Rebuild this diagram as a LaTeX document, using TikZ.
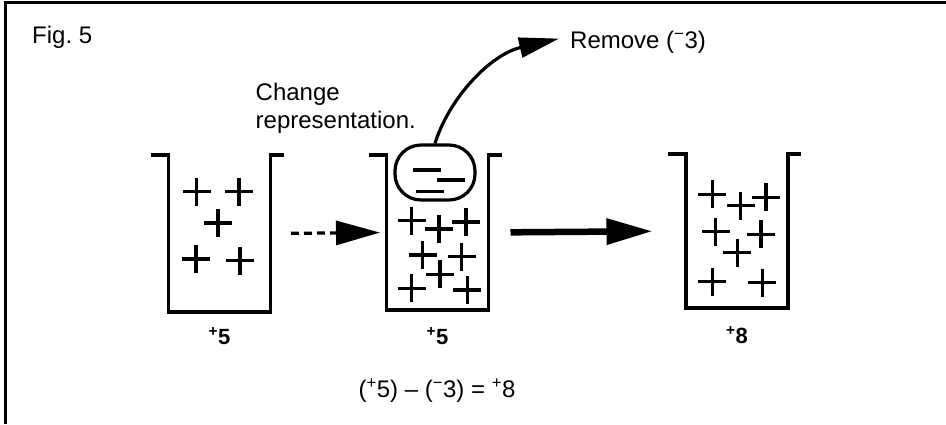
\documentclass[tikz,border=0pt]{standalone}
\usepackage{fontspec}
\setmainfont{Liberation Sans}
\usetikzlibrary{arrows.meta,calc}
\begin{document}
\begin{tikzpicture}[x=1pt,y=-1pt,
  frame/.style={line width=3pt},
  wall/.style={line width=3.4pt},
  tank/.style={minimum width=102pt, inner sep=0pt, outer sep=0pt},
  txt/.style={font=\fontsize{24}{28.3}\selectfont, inner sep=0pt},
  amount/.style={font=\fontsize{22}{24}\selectfont\bfseries, inner sep=0pt},
  plus/.style={line width=3.4pt},
  minusbar/.style={line width=3.2pt},
  dasharrow/.style={line width=3.2pt, dash pattern=on 8pt off 5pt,
    -{Triangle[length=44pt,width=24pt]}},
  thickarrow/.style={line width=6.5pt, -{Triangle[length=46pt,width=25pt]}},
  curvearrow/.style={line width=3.2pt, -{Triangle[length=40pt,width=20pt]}},
  plussign/.pic={\draw[plus] (-14,0) -- (14,0) (0,-14) -- (0,14);}
]
\useasboundingbox (0,0) rectangle (946,424);

% outer frame (top and left edges)
\draw[frame] (946,2) -- (5,2) -- (5,424);

\node[txt, anchor=base west] (fig) at (32,43) {Fig.\ 5};

% the three tanks
\node[tank, minimum height=157pt] (c1) at (219.5,233.5) {};
\node[tank, minimum height=155pt] (c2) at (437.5,232.5) {};
\node[tank, minimum height=154pt] (c3) at (737,231) {};

\foreach \c in {c1,c2,c3}{
  \draw[wall] ($(\c.north west)+(-18,0)$) -- (\c.north west) -- (\c.south west)
    -- (\c.south east) -- (\c.north east) -- ++(13,0);
}

% first tank: five positive charges
\foreach \p in {(196.7,191.7),(239,191.7),(218,223),(196,259),(240,260.7)}
  \pic at \p {plussign};

% second tank: eight positive charges and a bundle of three negatives
\foreach \p in {(411.7,220.7),(439,229),(466,222),(422.7,255),(461.7,256.7),
                (440,274.3),(411.7,288.3),(467.3,290)}
  \pic at \p {plussign};
\node[draw, line width=3.2pt, rounded corners=26pt, minimum width=80pt,
      minimum height=55pt, inner sep=0pt] (cap) at (435,172.5) {};
\draw[minusbar] (413,170) -- (441,170);
\draw[minusbar] (437,180) -- (465,180);
\draw[minusbar] (416,191.7) -- (444,191.7);

% third tank: eight positive charges
\foreach \p in {(712.3,194.3),(740.7,205.7),(766,197.3),(715.7,231.7),
                (761,234.3),(737.3,252.7),(712.3,281.7),(762.3,282.7)}
  \pic at \p {plussign};

% amounts below the tanks
\node[amount] (a1) at (219.5,336) {\textsuperscript{+}5};
\node[amount] (a2) at (437.5,336) {\textsuperscript{+}5};
\node[amount] (a3) at (737,335) {\textsuperscript{+}8};

% arrows between the tanks
\draw[dasharrow, shorten <=20.5pt, shorten >=6.5pt] (c1.east) -- (c2.west);
\draw[thickarrow, shorten <=22pt, shorten >=33.5pt] (c2.east) -- (c3.west);

% texts
\node[txt, anchor=north west, align=left] (chg) at (255.5,83)
  {Change\\representation.};
\node[txt, anchor=base west] (rem) at (570,48.3) {Remove (\textsuperscript{−}3)};
\coordinate (remtip) at ($(rem.west)+(-11,-3.5)$);
\draw[curvearrow] (cap.north) .. controls +(14,-45) and +(-69,16) .. (remtip);

% equation
\node[txt] (eq) at (437,391)
  {(\textsuperscript{+}5) – (\textsuperscript{−}3) = \textsuperscript{+}8};
\end{tikzpicture}
\end{document}
